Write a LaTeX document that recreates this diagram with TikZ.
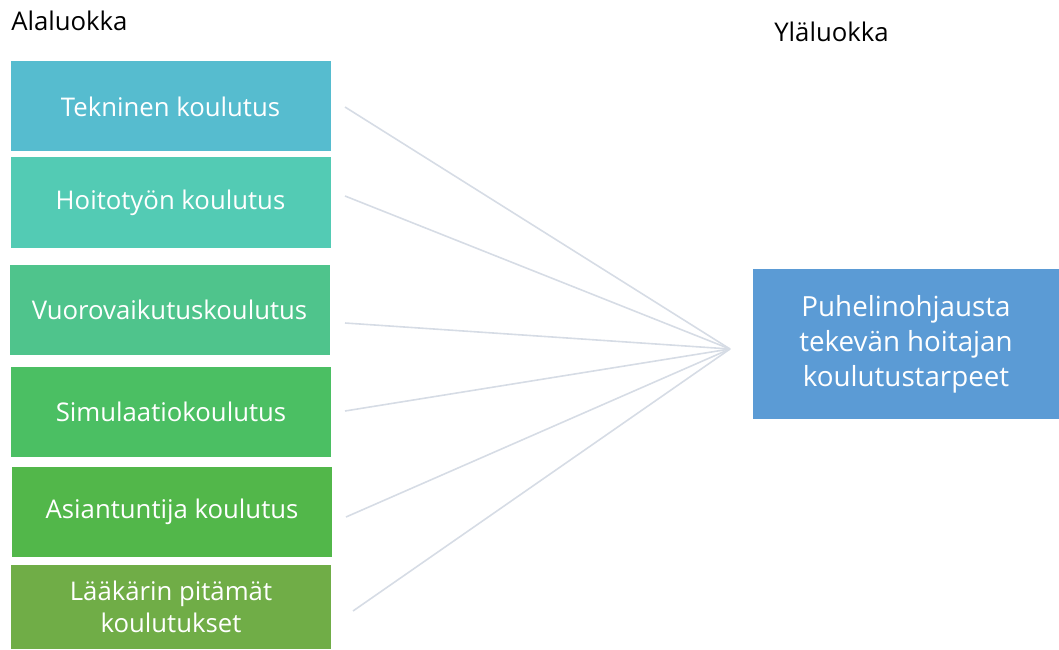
\documentclass[tikz,border=0pt]{standalone}
\usepackage{fontspec}
\setmainfont{Open Sans}
\usepackage{xcolor}
\usepackage{tikz}

\definecolor{tekcol}{RGB}{86,188,207}
\definecolor{hoicol}{RGB}{83,203,180}
\definecolor{vuocol}{RGB}{79,196,140}
\definecolor{simcol}{RGB}{75,191,99}
\definecolor{asicol}{RGB}{82,183,74}
\definecolor{laacol}{RGB}{112,173,71}
\definecolor{ylacol}{RGB}{91,155,213}
\definecolor{linkcol}{RGB}{214,220,229}

\tikzset{
  subbox/.style={fill=#1, draw=white, line width=0.75, text=white, align=center,
    minimum width=321*0.75pt, minimum height=91*0.75pt, inner sep=0.75pt,
    font=\fontsize{19.3}{24}\selectfont},
  mainbox/.style={fill=ylacol, text=white, align=center,
    minimum width=306*0.75pt, minimum height=150*0.75pt, inner sep=0.75pt,
    font=\fontsize{20.8}{26.3}\selectfont},
  link/.style={draw=linkcol, line width=1.2pt},
  heading/.style={anchor=base west, inner sep=0.75pt, font=\fontsize{19.3}{23}\selectfont}
}

\begin{document}
\begin{tikzpicture}[x=0.75pt,y=0.75pt,yscale=-1,xscale=1]
\useasboundingbox (0,0) rectangle (1059,649);

% Text Node
\node [heading] (ala) at (10,31) {Alaluokka};
% Text Node
\node [heading] (yla) at (773,42) {Yläluokka};

%Shape: Rectangle
\node [subbox=tekcol] (tek) at (170.5,106.5) {Tekninen koulutus};
%Shape: Rectangle
\node [subbox=hoicol] (hoi) at (170.5,202.5) {Hoitotyön koulutus};
%Shape: Rectangle
\node [subbox=vuocol] (vuo) at (169.5,310) {Vuorovaikutuskoulutus};
%Shape: Rectangle
\node [subbox=simcol] (sim) at (171,412) {Simulaatiokoulutus};
%Shape: Rectangle
\node [subbox=asicol] (asi) at (172,512) {Asiantuntija koulutus};
%Shape: Rectangle
\node [subbox=laacol, minimum height=85*0.75pt] (laa) at (171,607) {Lääkärin pitämät\\koulutukset};

%Shape: Rectangle
\node [mainbox] (puh) at (906,344) {Puhelinohjausta\\tekevän hoitajan\\koulutustarpeet};

%Straight Lines
\coordinate (hub) at (730,349);
\coordinate (s1) at (345,107);
\coordinate (s2) at (345,196);
\coordinate (s3) at (345,323);
\coordinate (s4) at (345,411);
\coordinate (s5) at (346,517);
\coordinate (s6) at (353,611);
\foreach \s in {s1,s2,s3,s4,s5,s6}
  \draw [link] (\s) -- (hub);
\end{tikzpicture}
\end{document}
